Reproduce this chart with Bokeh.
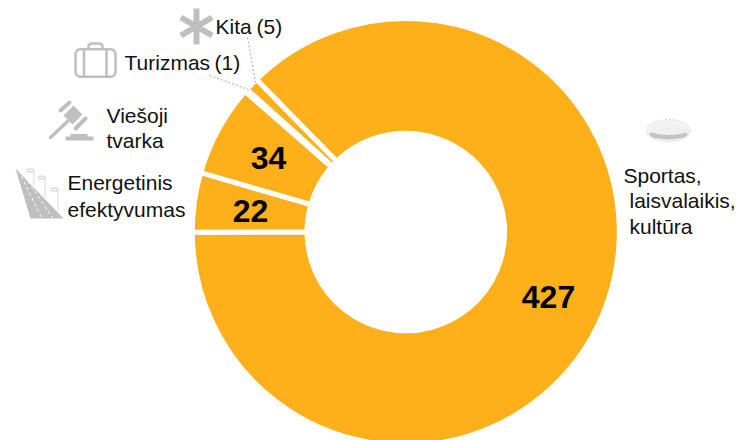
from math import pi, sin, cos, radians
from bokeh.plotting import figure
from bokeh.models import Range1d
from bokeh.core.properties import value
from bokeh.embed import file_html
from bokeh.resources import INLINE

categories = ["Sportas, laisvalaikis, kultūra", "Energetinis efektyvumas", "Viešoji tvarka", "Turizmas", "Kita"]
values = [427, 22, 34, 1, 5]
value_labels = ["427", "22", "34"]

ORANGE = "#FDB019"
GREY = "#BFBFBF"
FONT = value("Liberation Sans")

W, H = 740, 440
p = figure(width=W, height=H, output_backend="svg", toolbar_location=None,
           x_range=Range1d(0, W), y_range=Range1d(0, H),
           min_border=0, outline_line_color=None)
p.axis.visible = False
p.grid.visible = False
p.background_fill_color = "white"
p.border_fill_color = "white"

def Y(v):
    return 440 - v if not isinstance(v, (list, tuple)) else [440 - a for a in v]

# donut
CX, CY, R_OUT, R_IN = 405.3, 231.5, 213.5, 98.8
total = sum(values)
a = radians(134.4)
starts, ends = [], []
for v in values:
    b = a - v / total * 2 * pi
    starts.append(a)
    ends.append(b)
    a = b
p.annular_wedge(x=[CX] * 5, y=[Y(CY)] * 5, inner_radius=R_IN, outer_radius=R_OUT,
                start_angle=starts, end_angle=ends, direction="clock",
                fill_color=ORANGE, line_color="white", line_width=5)

def txt(x, y, s, size="21px", weight="normal", align="left", baseline="middle", color="#111111"):
    p.text(x=[x], y=[Y(y)], text=[s], text_font=FONT, text_font_size=value(size),
           text_font_style=weight, text_align=align, text_baseline=baseline, text_color=color)

# value labels
for (x, y), s in zip([(548, 296), (250, 210), (268, 157)], value_labels):
    txt(x, y, s, size="32px", weight="bold", align="center", color="black")

# category labels
txt(67, 181.5, "Energetinis"); txt(67, 208.5, "efektyvumas")
txt(106, 114.5, "Viešoji"); txt(106, 140, "tvarka")
txt(124, 62, "Turizmas"); txt(214, 62, "(1)")
txt(215, 26, "Kita"); txt(256, 26, "(5)")
txt(623, 174.5, "Sportas,"); txt(629, 200, "laisvalaikis,"); txt(629, 226, "kultūra")

# leaders
p.line([247, 255], Y([37, 82]), line_color="#A6A6A6", line_width=1, line_dash="2 2")
p.line([209, 248], Y([75, 89]), line_color="#A6A6A6", line_width=1, line_dash="2 2")

# asterisk icon
ac = (196, 26)
for ang in (90, 30, 150):
    dx, dy = 18 * cos(radians(ang)), 18 * sin(radians(ang))
    p.line([ac[0] - dx, ac[0] + dx], Y([ac[1] - dy, ac[1] + dy]), line_color=GREY, line_width=6)

# suitcase icon
p.rect(x=[95], y=[Y(62.5)], width=40, height=27.5, fill_color=None, line_color=GREY, line_width=2.5,
       border_radius=5)
p.line([88, 88, 90, 100, 102, 102], Y([48, 45, 43, 43, 45, 48]), line_color=GREY, line_width=2.5)
p.line([83.5, 83.5], Y([49, 76]), line_color=GREY, line_width=2.5)
p.line([106, 106], Y([49, 76]), line_color=GREY, line_width=2.5)

# gavel icon
p.line([50, 68], Y([137, 120]), line_color=GREY, line_width=3.5, line_cap="round")
p.line([68, 77], Y([110, 119]), line_color=GREY, line_width=14)
p.line([60, 69], Y([110, 102]), line_color=GREY, line_width=4, line_cap="round")
p.line([75, 85], Y([128, 118]), line_color=GREY, line_width=4, line_cap="round")
p.line([65, 93], Y([138, 138]), line_color=GREY, line_width=4)
p.line([70, 87], Y([135, 135]), line_color=GREY, line_width=3)

# road icon
p.patch([15, 63, 30], Y([168, 218, 218]), fill_color=GREY, line_color=None)
p.line([21, 41], Y([176, 217]), line_color="white", line_width=1, line_dash="3 3")
p.line([24, 52], Y([176, 217]), line_color="white", line_width=1, line_dash="3 3")
for x, y0, y1 in [(30, 170, 185), (41, 177, 197), (54, 189, 210)]:
    p.line([x + 3.5, x + 3.5], Y([y0, y1]), line_color="#D9D9D9", line_width=1)
    p.ellipse(x=[x], y=[Y(y0)], width=8, height=3, fill_color=None, line_color="#C8C8C8", line_width=1)

# stadium icon
p.ellipse(x=[668], y=[Y(130)], width=44, height=22, fill_color="#F2F2F2", line_color="#D8D8D8",
          line_width=1, line_dash="2 2")
p.ellipse(x=[668], y=[Y(134)], width=38, height=10, fill_color="#C4C4C4", line_color=None)
p.ellipse(x=[668], y=[Y(129.5)], width=38, height=10, fill_color="#F0F0F0", line_color=None)

open("out.html", "w").write(file_html(p, INLINE))
